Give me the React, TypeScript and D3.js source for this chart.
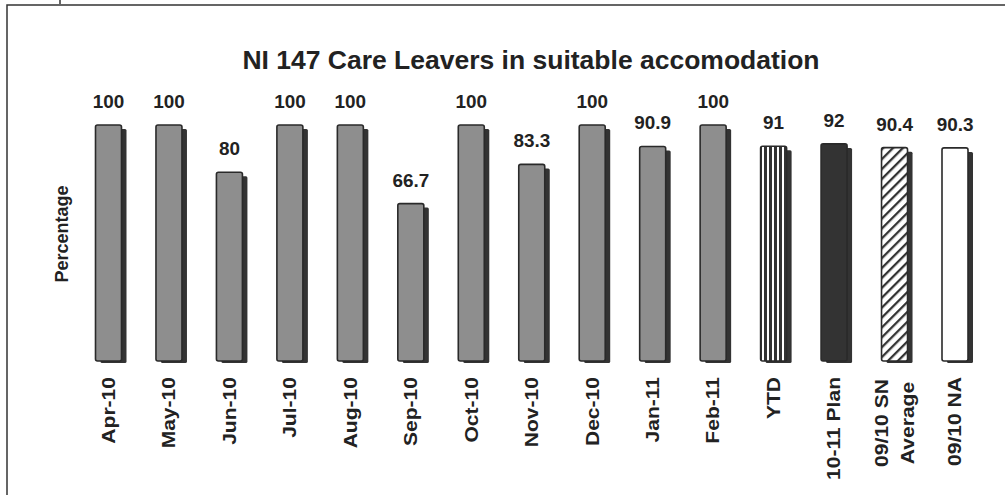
import * as d3 from "d3";

const WIDTH = 1005;
const HEIGHT = 495;

const CATEGORIES = [
  "Apr-10", "May-10", "Jun-10", "Jul-10", "Aug-10", "Sep-10", "Oct-10",
  "Nov-10", "Dec-10", "Jan-11", "Feb-11", "YTD", "10-11 Plan", "09/10 SN|Average", "09/10 NA",
];
const VALUES = [100, 100, 80, 100, 100, 66.7, 100, 83.3, 100, 90.9, 100, 91, 92, 90.4, 90.3];
const LABELS = ["100", "100", "80", "100", "100", "66.7", "100", "83.3", "100", "90.9", "100", "91", "92", "90.4", "90.3"];
// how each bar is filled
const STYLES = ["grey", "grey", "grey", "grey", "grey", "grey", "grey", "grey", "grey", "grey", "grey", "stripes", "solid", "hatch", "white"];

const FILLS: Record<string, string> = {
  grey: "#8e8e8e",
  stripes: "url(#vstripes)",
  solid: "#333",
  hatch: "url(#hatch)",
  white: "#fff",
};

const FONT = "'Liberation Sans', Arial, sans-serif";
const INK = "#222";
const BAR_W = 26;
const SHADOW = 5;
const LABEL_TOP = 377;

export default function App() {
  const x = d3.scalePoint<string>().domain(CATEGORIES).range([108.5, 955]);
  const y = d3.scaleLinear().domain([0, 100]).range([361, 125]);
  const base = y(0);

  return (
    <svg
      width={WIDTH}
      height={HEIGHT}
      style={{ position: "absolute", left: 0, top: 0, background: "#fff" }}
      fontFamily={FONT}
    >
      <defs>
        <pattern id="vstripes" patternUnits="userSpaceOnUse" width={5} height={10}>
          <rect width={5} height={10} fill="#333" />
          <rect x={2} width={2} height={10} fill="#fff" />
        </pattern>
        <pattern id="hatch" patternUnits="userSpaceOnUse" width={7} height={7} patternTransform="rotate(45)">
          <rect width={7} height={7} fill="#fff" />
          <line x1={1} y1={0} x2={1} y2={7} stroke="#333" strokeWidth={2.6} />
        </pattern>
      </defs>

      {/* frame */}
      <rect x={7} y={5} width={1010} height={500} fill="none" stroke="#333" strokeWidth={1.5} />
      <line x1={60} y1={0} x2={60} y2={4} stroke="#333" strokeWidth={1.5} />

      <text
        transform="translate(531, 69) scale(1.06, 1)"
        textAnchor="middle"
        fontSize={25}
        fontWeight="bold"
        fill={INK}
      >
        NI 147 Care Leavers in suitable accomodation
      </text>

      <text
        transform={`translate(68, 234) rotate(-90)`}
        textAnchor="middle"
        fontSize={18}
        fontWeight="bold"
        fill={INK}
      >
        Percentage
      </text>

      {CATEGORIES.map((c, i) => {
        const cx = x(c)!;
        const top = y(VALUES[i]);
        const style = STYLES[i];
        return (
          <g key={c}>
            <rect
              x={cx - BAR_W / 2 + SHADOW}
              y={top + 4}
              width={BAR_W}
              height={base - top - 2}
              fill="#333"
              rx={1.5}
            />
            <rect
              x={cx - BAR_W / 2}
              y={top}
              width={BAR_W}
              height={base - top}
              fill={FILLS[style]}
              stroke="#2a2a2a"
              strokeWidth={1.6}
              rx={2}
            />
            <text
              transform={`translate(${cx}, ${top - 17}) scale(1.05, 1)`}
              textAnchor="middle"
              fontSize={18}
              fontWeight="bold"
              fill={INK}
            >
              {LABELS[i]}
            </text>
          </g>
        );
      })}

      {/* category labels, stretched along the text like the original */}
      {CATEGORIES.map((c) => {
        const cx = x(c)!;
        const lines = c.split("|");
        if (lines.length === 1) {
          return (
            <text
              key={c}
              transform={`translate(${cx}, ${LABEL_TOP}) rotate(-90) scale(1.17, 1)`}
              textAnchor="end"
              dy="0.35em"
              fontSize={18}
              fontWeight="bold"
              fill={INK}
            >
              {c}
            </text>
          );
        }
        return (
          <text
            key={c}
            transform={`translate(${cx}, ${LABEL_TOP + 46}) rotate(-90) scale(1.17, 1)`}
            textAnchor="middle"
            fontSize={18}
            fontWeight="bold"
            fill={INK}
          >
            {lines.map((l, j) => (
              <tspan key={l} x={0} y={(j - (lines.length - 1) / 2) * 26} dy="0.35em">
                {l}
              </tspan>
            ))}
          </text>
        );
      })}
    </svg>
  );
}
